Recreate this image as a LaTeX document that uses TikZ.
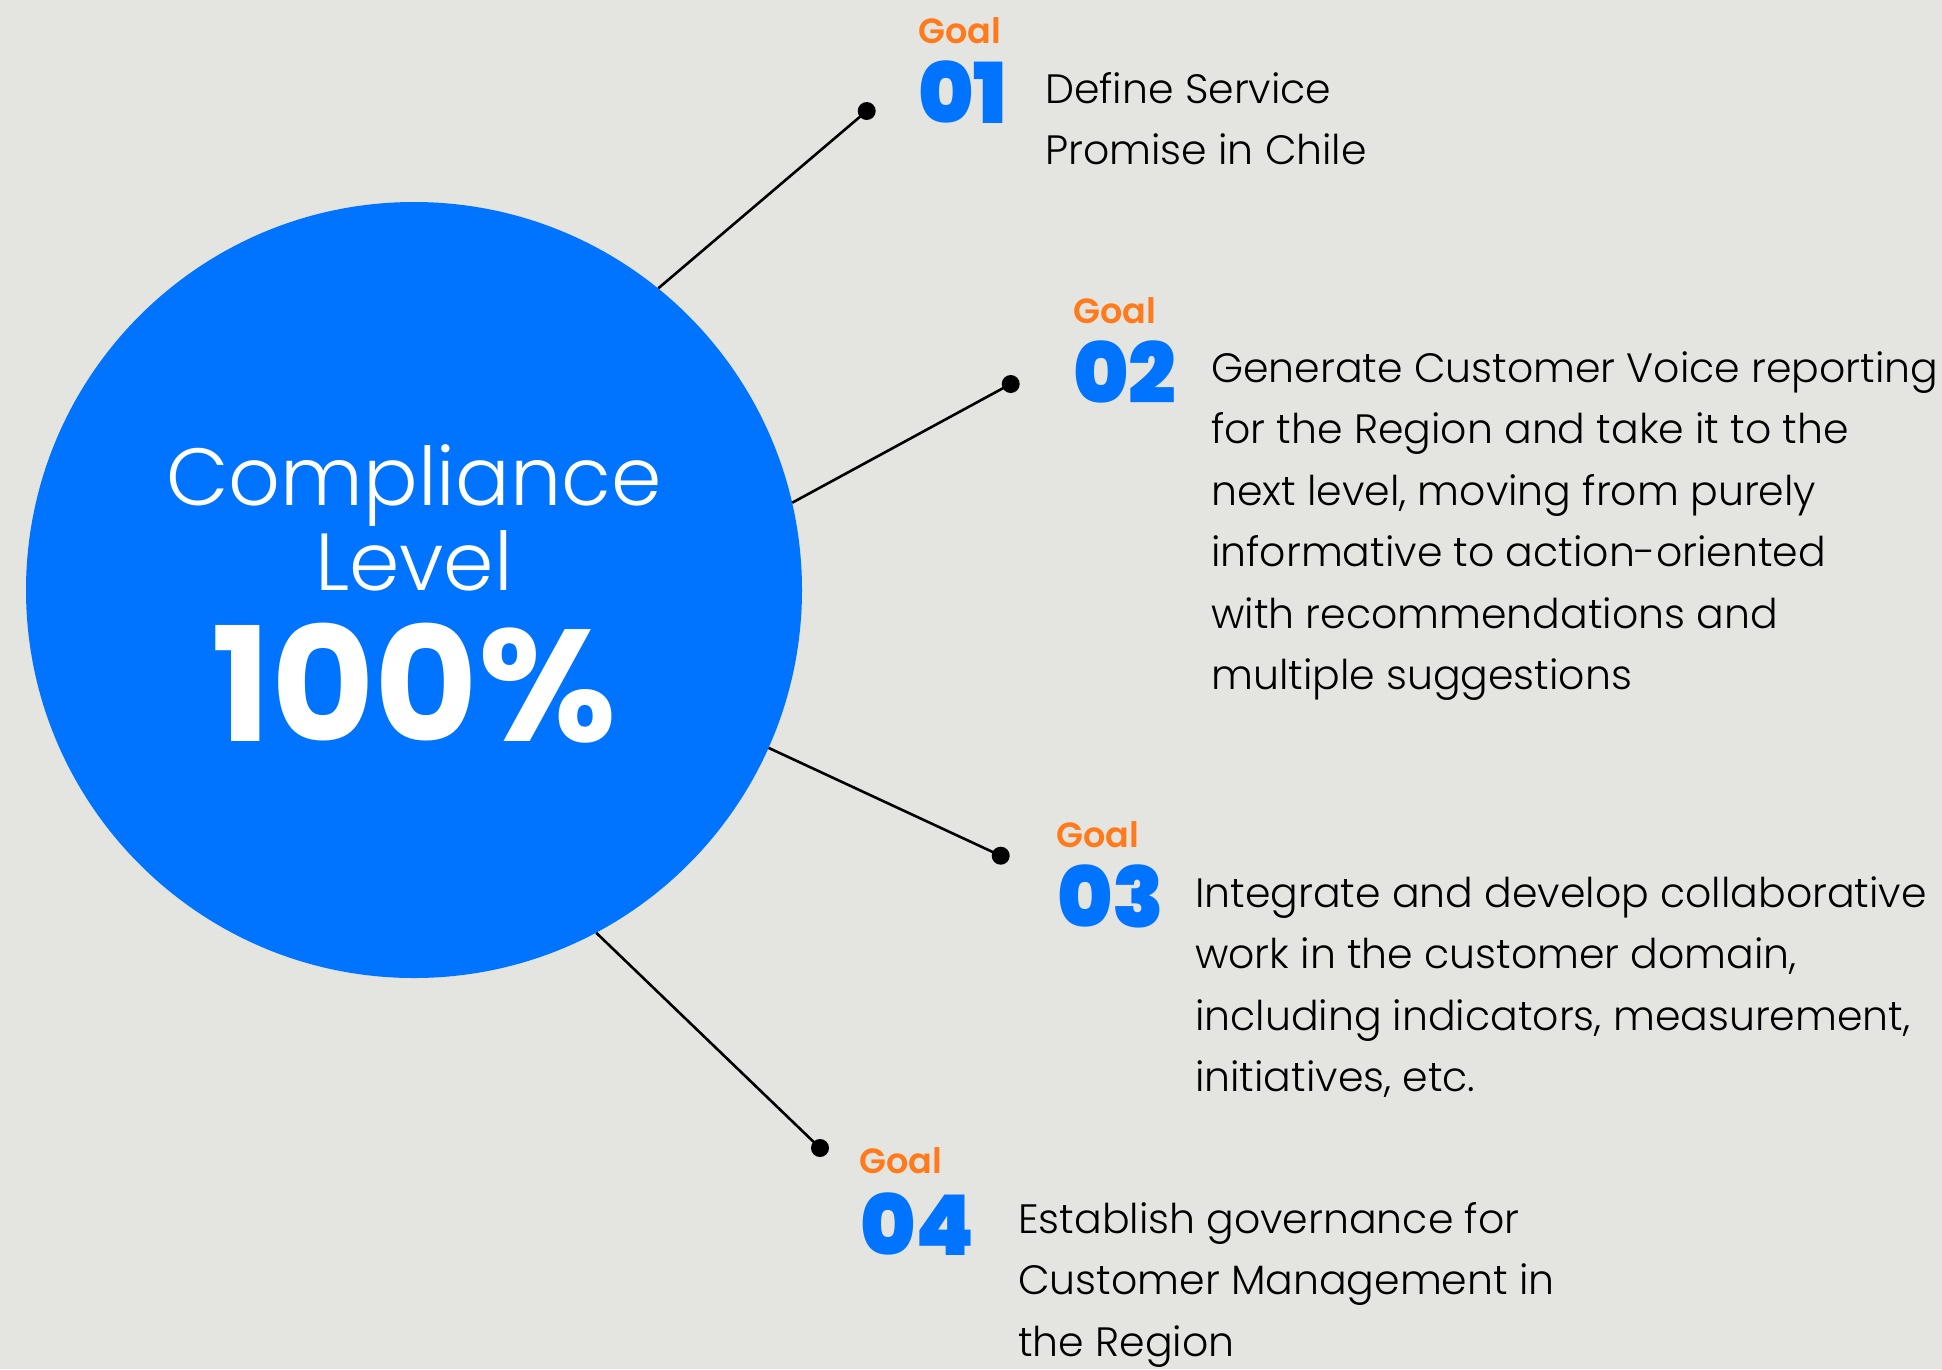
\documentclass[tikz,border=0pt]{standalone}
\usepackage{fontspec}
\setmainfont{Poppins}
\newfontfamily\lightfont{Poppins Light}
\newfontfamily\semifont{Poppins SemiBold}
\newfontfamily\blackfont{Poppins Black}
\newfontfamily\boldfont{Poppins Bold}
\definecolor{bgcol}{HTML}{E4E4E0}
\definecolor{bluecol}{HTML}{0073FF}
\definecolor{orangecol}{HTML}{FF7A1A}
\tikzset{
  goallabel/.style={anchor=base west, inner sep=0pt, text=orangecol,
    font=\semifont\fontsize{35}{40}\selectfont},
  goalnum/.style={anchor=base west, inner sep=0pt, text=bluecol,
    font=\blackfont\fontsize{84}{90}\selectfont},
  goaltext/.style={anchor=base west, inner sep=0pt, text=black,
    font=\lightfont\fontsize{41}{61.5}\selectfont},
  connector/.style={line width=2.6pt, black},
  enddot/.style={circle, fill=black, inner sep=0pt, minimum size=18pt},
}
\newcommand{\textlines}[1]{\begin{tabular}[t]{@{}l@{}}#1\end{tabular}}
\begin{document}
\begin{tikzpicture}[x=1pt, y=-1pt]
  % canvas
  \fill[bgcol] (0,0) rectangle (1942,1369);
  \useasboundingbox (0,0) rectangle (1942,1369);

  % connector end points
  \node[enddot] (d1) at (866.7,111) {};
  \node[enddot] (d2) at (1010.7,384) {};
  \node[enddot] (d3) at (1000.7,855.7) {};
  \node[enddot] (d4) at (820,1148) {};

  % central disc
  \node[circle, fill=bluecol, inner sep=0pt, minimum size=776pt] (circ) at (414,590) {};

  \draw[connector] (circ.51.6) -- (d1.center);
  \draw[connector] (circ.13.6) -- (d2.center);
  \draw[connector] (circ.-24.5) -- (d3.center);
  \draw[connector] (circ.-62.7) -- (d4.center);

  % disc caption
  \node[anchor=base, inner sep=0pt, text=white, font=\lightfont\fontsize{81}{90}\selectfont] (c1) at (414,505) {Compliance};
  \node[anchor=base, inner sep=0pt, text=white, font=\lightfont\fontsize{81}{90}\selectfont] (c2) at (414,590) {Level};
  \node[anchor=base, inner sep=0pt, text=white, font=\boldfont\fontsize{159}{160}\selectfont] (c3) at (414,741) {100\%};

  % goal 01
  \node[goallabel] (g1) at (918,43) {Goal};
  \node[goalnum] (n1) at (918,123) {01};
  \node[goaltext] (t1) at (1045,103) {\textlines{Define Service\\Promise in Chile}};

  % goal 02
  \node[goallabel] (g2) at (1073,323) {Goal};
  \node[goalnum] (n2) at (1073,403) {02};
  \node[goaltext] (t2) at (1211,382) {\textlines{Generate Customer Voice reporting\\for the Region and take it to the\\next level, moving from purely\\informative to action-oriented\\with recommendations and\\multiple suggestions}};

  % goal 03
  \node[goallabel] (g3) at (1056,847) {Goal};
  \node[goalnum] (n3) at (1057,927) {03};
  \node[goaltext] (t3) at (1195,907) {\textlines{Integrate and develop collaborative\\work in the customer domain,\\including indicators, measurement,\\initiatives, etc.}};

  % goal 04
  \node[goallabel] (g4) at (859,1173) {Goal};
  \node[goalnum] (n4) at (860,1255) {04};
  \node[goaltext] (t4) at (1018,1233) {\textlines{Establish governance for\\Customer Management in\\the Region}};
\end{tikzpicture}
\end{document}
